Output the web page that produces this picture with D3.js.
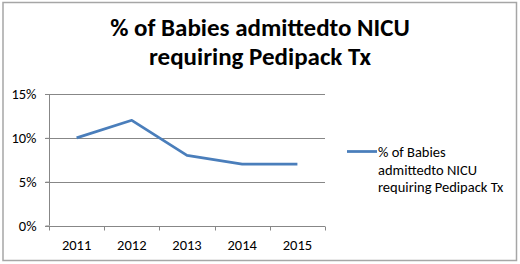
<!DOCTYPE html>
<html><head><meta charset="utf-8">
<script src="https://cdn.jsdelivr.net/npm/d3@7"></script>
<style>body{margin:0;background:#fff}svg{display:block}</style>
</head><body>
<script>
const categories = ["2011","2012","2013","2014","2015"];
const values = [10, 12, 8, 7, 7];
const yTicks = [0, 5, 10, 15];
const seriesName = "% of Babies admittedto NICU requiring Pedipack Tx";
const titleLines = ["% of Babies admittedto NICU", "requiring Pedipack Tx"];
const legendLines = ["% of Babies", "admittedto NICU", "requiring Pedipack Tx"];

const W = 520, H = 264;
const font = "Carlito, 'Open Sans', 'Liberation Sans', sans-serif";
const svg = d3.select("body").append("svg").attr("width", W).attr("height", H);
svg.append("rect").attr("x", 0).attr("y", 0).attr("width", W).attr("height", H).attr("fill", "#fff");
svg.append("rect").attr("x", 3).attr("y", 2.5).attr("width", 513.5).attr("height", 258).attr("fill", "none").attr("stroke", "#a6a6a6").attr("stroke-width", 1.5);

const x = d3.scaleBand().domain(categories).range([49, 325]);
const y = d3.scaleLinear().domain([0, 15]).range([225.5, 94]);

// title
svg.append("g").selectAll("text").data(titleLines).join("text")
  .attr("x", 260).attr("y", (d, i) => 36 + i * 29)
  .attr("text-anchor", "middle").attr("font-family", font).attr("font-weight", "bold")
  .attr("font-size", 25).attr("fill", "#000").text(d => d);

// gridlines
svg.append("g").selectAll("line").data(yTicks.filter(t => t > 0)).join("line")
  .attr("x1", 45).attr("x2", 325).attr("y1", d => Math.round(y(d)) + 0.5).attr("y2", d => Math.round(y(d)) + 0.5)
  .attr("stroke", "#878787").attr("stroke-width", 1);

// y axis
const yAxis = d3.axisLeft(y).tickValues(yTicks).tickFormat(d => d + "%").tickSize(4).tickPadding(9);
const gy = svg.append("g").attr("transform", "translate(49.5,0)").call(yAxis);
gy.select(".domain").attr("stroke", "#878787").attr("d", `M0,${y(15)}V${y(0)}`);
gy.selectAll(".tick line").attr("stroke", "#878787");
gy.selectAll(".tick text").attr("font-family", font).attr("font-size", 14.5).attr("fill", "#000");

// x axis
const gx = svg.append("g").attr("transform", `translate(0,${Math.round(y(0)) + 0.5})`);
gx.append("line").attr("x1", 45).attr("x2", 325).attr("stroke", "#878787");
const edges = categories.map(c => x(c)).concat([x.range()[1]]);
gx.selectAll("line.t").data(edges).join("line").attr("class", "t")
  .attr("x1", d => Math.round(d) + 0.5).attr("x2", d => Math.round(d) + 0.5).attr("y1", 0).attr("y2", 4)
  .attr("stroke", "#878787");
gx.selectAll("text").data(categories).join("text")
  .attr("x", d => x(d) + x.bandwidth() / 2).attr("y", 23)
  .attr("text-anchor", "middle").attr("font-family", font).attr("font-size", 14.5).attr("fill", "#000")
  .text(d => d);

// line
const line = d3.line().x((d, i) => x(categories[i]) + x.bandwidth() / 2).y(d => y(d));
svg.append("path").datum(values).attr("d", line).attr("fill", "none")
  .attr("stroke", "#4a7ebb").attr("stroke-width", 2.75).attr("stroke-linejoin", "round");

// legend
svg.append("line").attr("x1", 347).attr("x2", 377).attr("y1", 151.5).attr("y2", 151.5)
  .attr("stroke", "#4a7ebb").attr("stroke-width", 2.75);
svg.append("g").selectAll("text").data(legendLines).join("text")
  .attr("x", 378).attr("y", (d, i) => 157 + i * 17.5)
  .attr("font-family", font).attr("font-size", 14.5).attr("fill", "#000").text(d => d);
</script>
</body></html>
